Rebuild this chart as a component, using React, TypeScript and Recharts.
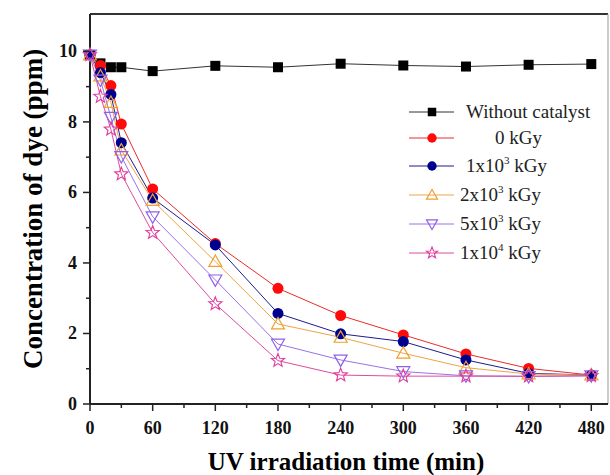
import React from 'react';
import { LineChart, Line, XAxis, YAxis, ReferenceLine, Legend } from 'recharts';

// ---- data ----
const times = [0, 10, 20, 30, 60, 120, 180, 240, 300, 360, 420, 480];
const withoutCatalyst = [9.9, 9.66, 9.55, 9.55, 9.44, 9.59, 9.55, 9.65, 9.6, 9.57, 9.62, 9.64];
const dose0 = [9.9, 9.6, 9.03, 7.94, 6.1, 4.55, 3.28, 2.51, 1.96, 1.42, 1.01, 0.82];
const dose1e3 = [9.9, 9.4, 8.78, 7.41, 5.84, 4.51, 2.57, 1.99, 1.77, 1.25, 0.87, 0.82];
const dose2e3 = [9.9, 9.3, 8.55, 7.2, 5.77, 4.04, 2.27, 1.89, 1.44, 1.03, 0.85, 0.82];
const dose5e3 = [9.9, 9.19, 8.13, 7.02, 5.31, 3.52, 1.7, 1.25, 0.92, 0.8, 0.78, 0.8];
const dose1e4 = [9.9, 8.72, 7.79, 6.52, 4.86, 2.84, 1.23, 0.82, 0.79, 0.79, 0.79, 0.8];

const xTicks = [0, 30, 60, 90, 120, 150, 180, 210, 240, 270, 300, 330, 360, 390, 420, 450, 480];
const xMajor = [0, 60, 120, 180, 240, 300, 360, 420, 480];
const yTicks = [0, 1, 2, 3, 4, 5, 6, 7, 8, 9, 10];
const yMajor = [0, 2, 4, 6, 8, 10];

const seriesNames = ['Without catalyst', '0 kGy', '1x10^3 kGy', '2x10^3 kGy', '5x10^3 kGy', '1x10^4 kGy'];
const seriesKeys = ['wc', 'd0', 'd1e3', 'd2e3', 'd5e3', 'd1e4'];
const seriesValues = [withoutCatalyst, dose0, dose1e3, dose2e3, dose5e3, dose1e4];

const X_MAX = 496;
const Y_MAX = 11.06;

const data = times.map((t, i) => {
  const row: any = { t };
  seriesKeys.forEach((k, j) => (row[k] = seriesValues[j][i]));
  return row;
});

// ---- styles ----
const FONT = "'Liberation Serif', 'Times New Roman', serif";
const lineColors = ['#333333', '#ee2a2a', '#1c1c8a', '#f0a444', '#9a70ea', '#e04a9e'];
const markerColors = ['#000000', '#ff0a0a', '#00008e', '#f0a030', '#9060e8', '#e03c9c'];
const shapes = ['square', 'circle', 'circle', 'up', 'down', 'star'];

function Marker({ shape, color, cx, cy, s = 1 }: any) {
  if (cx == null || cy == null) return <g />;
  switch (shape) {
    case 'square':
      return <rect x={cx - 5 * s} y={cy - 5 * s} width={10 * s} height={10 * s} fill={color} />;
    case 'circle':
      return <circle cx={cx} cy={cy} r={5.5 * s} fill={color} />;
    case 'up': {
      const r = 6.5 * s;
      return (
        <polygon
          points={`${cx},${cy - r} ${cx - r},${cy + r * 0.75} ${cx + r},${cy + r * 0.75}`}
          fill="none"
          stroke={color}
          strokeWidth={1.2}
        />
      );
    }
    case 'down': {
      const r = 6.5 * s;
      return (
        <polygon
          points={`${cx},${cy + r} ${cx - r},${cy - r * 0.75} ${cx + r},${cy - r * 0.75}`}
          fill="none"
          stroke={color}
          strokeWidth={1.2}
        />
      );
    }
    case 'star': {
      const R = 7 * s;
      const rr = 3 * s;
      const pts: string[] = [];
      for (let i = 0; i < 10; i++) {
        const a = -Math.PI / 2 + (i * Math.PI) / 5;
        const rad = i % 2 === 0 ? R : rr;
        pts.push(`${cx + rad * Math.cos(a)},${cy + rad * Math.sin(a)}`);
      }
      return <polygon points={pts.join(' ')} fill="none" stroke={color} strokeWidth={1.1} />;
    }
    default:
      return <g />;
  }
}

function XTick(props: any) {
  const { x, y, payload } = props;
  const major = xMajor.includes(payload.value);
  return (
    <g>
      <line x1={x} x2={x} y1={y} y2={y + (major ? 7 : 4)} stroke="#222" strokeWidth={1.5} />
      {major && (
        <text
          x={x}
          y={y + 30}
          textAnchor="middle"
          fontFamily={FONT}
          fontWeight="bold"
          fontSize={18}
          fill="#111"
        >
          {payload.value}
        </text>
      )}
    </g>
  );
}

function YTick(props: any) {
  const { x, y, payload } = props;
  const major = yMajor.includes(payload.value);
  return (
    <g>
      <line x1={x - (major ? 7 : 4)} x2={x} y1={y} y2={y} stroke="#222" strokeWidth={1.5} />
      {major && (
        <text
          x={x - 13}
          y={y + 6}
          textAnchor="end"
          fontFamily={FONT}
          fontWeight="bold"
          fontSize={18}
          fill="#111"
        >
          {payload.value}
        </text>
      )}
    </g>
  );
}

function renderLabel(name: string) {
  const m = name.match(/^(.*?)\^(\d+)(.*)$/);
  if (!m) return name;
  return (
    <>
      {m[1]}
      <tspan dy={-8} fontSize={11}>
        {m[2]}
      </tspan>
      <tspan dy={8}>{m[3]}</tspan>
    </>
  );
}

const legendRowY = [112, 138, 166, 195, 224, 253];
const legendTextX = [466, 495, 466, 460, 460, 460];

function LegendContent() {
  return (
    <svg width={610} height={475} style={{ position: 'absolute', left: 0, top: 0, pointerEvents: 'none' }}>
      {seriesNames.map((n, i) => (
        <g key={n}>
          <line x1={409} x2={454} y1={legendRowY[i]} y2={legendRowY[i]} stroke={lineColors[i]} strokeWidth={1} />
          <Marker shape={shapes[i]} color={markerColors[i]} cx={432} cy={legendRowY[i]} s={0.85} />
          <text x={legendTextX[i]} y={legendRowY[i] + 6} fontFamily={FONT} fontSize={19} fill="#222">
            {renderLabel(n)}
          </text>
        </g>
      ))}
    </svg>
  );
}

export default function App() {
  return (
    <div style={{ position: 'absolute', left: 0, top: 0, width: 610, height: 475, background: '#fff' }}>
      <LineChart width={610} height={475} data={data} margin={{ top: 14, right: 2, bottom: 0, left: 0 }}>
        <XAxis
          dataKey="t"
          type="number"
          domain={[0, X_MAX]}
          ticks={xTicks}
          interval={0}
          height={71}
          tickLine={false}
          tickSize={0}
          tickMargin={0}
          tick={<XTick />}
          axisLine={{ stroke: '#222', strokeWidth: 2 }}
          label={{
            value: 'UV irradiation time (min)',
            position: 'insideBottom',
            offset: 5,
            dx: -3,
            fontFamily: FONT,
            fontWeight: 'bold',
            fontSize: 25,
            fill: '#000',
          }}
        />
        <YAxis
          type="number"
          domain={[0, Y_MAX]}
          ticks={yTicks}
          interval={0}
          width={90}
          tickLine={false}
          tickSize={0}
          tickMargin={0}
          tick={<YTick />}
          axisLine={{ stroke: '#222', strokeWidth: 2 }}
          label={{
            value: 'Concentration of dye (ppm)',
            angle: -90,
            position: 'center',
            dx: -13,
            fontFamily: FONT,
            fontWeight: 'bold',
            fontSize: 27,
            fill: '#000',
          }}
        />
        <ReferenceLine y={Y_MAX} stroke="#333" strokeWidth={2} ifOverflow="visible" />
        <ReferenceLine x={X_MAX} stroke="#999" strokeWidth={1} ifOverflow="visible" />
        {seriesKeys.map((k, i) => (
          <Line
            key={k}
            dataKey={k}
            name={seriesNames[i]}
            stroke={lineColors[i]}
            strokeWidth={1}
            isAnimationActive={false}
            dot={(p: any) => <Marker key={`${k}-${p.index}`} shape={shapes[i]} color={markerColors[i]} cx={p.cx} cy={p.cy} />}
            activeDot={false}
          />
        ))}
        <Legend
          layout="vertical"
          align="center"
          verticalAlign="middle"
          content={() => <LegendContent />}
          wrapperStyle={{ position: 'absolute', left: 0, top: 0, width: 610, height: 475, pointerEvents: 'none' }}
        />
      </LineChart>
    </div>
  );
}
